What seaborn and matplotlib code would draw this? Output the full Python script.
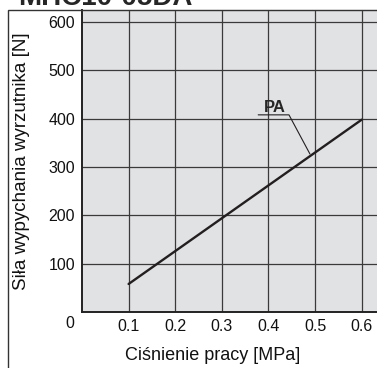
import matplotlib
matplotlib.use("Agg")
import matplotlib.pyplot as plt
import seaborn as sns
import pandas as pd
from matplotlib.patches import Rectangle

# data
pressure = [0.1, 0.6]          # MPa
force = [58, 398]              # N
x_ticks = [0.1, 0.2, 0.3, 0.4, 0.5, 0.6]
y_ticks = [100, 200, 300, 400, 500, 600]
series_label = "PA"
title = "MHC10-05DA"

sns.set_theme(style="white")
plt.rcParams["font.family"] = ["Liberation Sans", "DejaVu Sans"]

df = pd.DataFrame({"p": pressure, "f": force})

fig = plt.figure(figsize=(3.77, 3.68), dpi=100)
ax = fig.add_axes([82 / 377, 56 / 368, 296 / 377, 302 / 368])
ax.set_facecolor("#e1e2e4")

sns.lineplot(data=df, x="p", y="f", ax=ax, color="#231f20", lw=1.7)

ax.set_xlim(0, 0.635)
ax.set_ylim(0, 625)
ax.set_xticks(x_ticks)
ax.set_yticks(y_ticks)
ax.set_xticklabels([f"{v:.1f}" for v in x_ticks])
ax.grid(True, color="#3a3a3a", lw=0.9)
ax.tick_params(axis="both", length=0, labelsize=11.5, colors="#111111", pad=5)
for s in ["top", "right"]:
    ax.spines[s].set_color("#bbbbbb")
    ax.spines[s].set_linewidth(0.8)
for s in ["left", "bottom"]:
    ax.spines[s].set_color("#222222")
    ax.spines[s].set_linewidth(1.4)

ax.set_xlabel("Ciśnienie pracy [MPa]", fontsize=13, color="#111111")
ax.xaxis.set_label_coords(0.44, -0.115)
ax.set_ylabel("Siła wypychania wyrzutnika [N]", fontsize=13.5, color="#111111")
ax.yaxis.set_label_coords(-0.176, 0.5)
ax.text(-0.04, -0.037, "0", transform=ax.transAxes, ha="center", va="center",
        fontsize=11.5, color="#111111")

# label with leader line
ax.text(0.414, 423, series_label, fontsize=12, fontweight="bold", ha="center", va="center")
ax.plot([0.378, 0.444, 0.489], [408, 408, 327], color="#231f20", lw=0.8)

# outer frame and cut-off title
fig.patches.append(Rectangle((8 / 377, -0.05), 1.1, 358 / 368 + 0.05,
                             transform=fig.transFigure, fill=False,
                             ec="#333333", lw=1, zorder=0))
fig.text(18 / 377, 1 - 5 / 368, title, fontsize=20, fontweight="bold",
         va="baseline", ha="left")

fig.savefig("out.png", dpi=100)
